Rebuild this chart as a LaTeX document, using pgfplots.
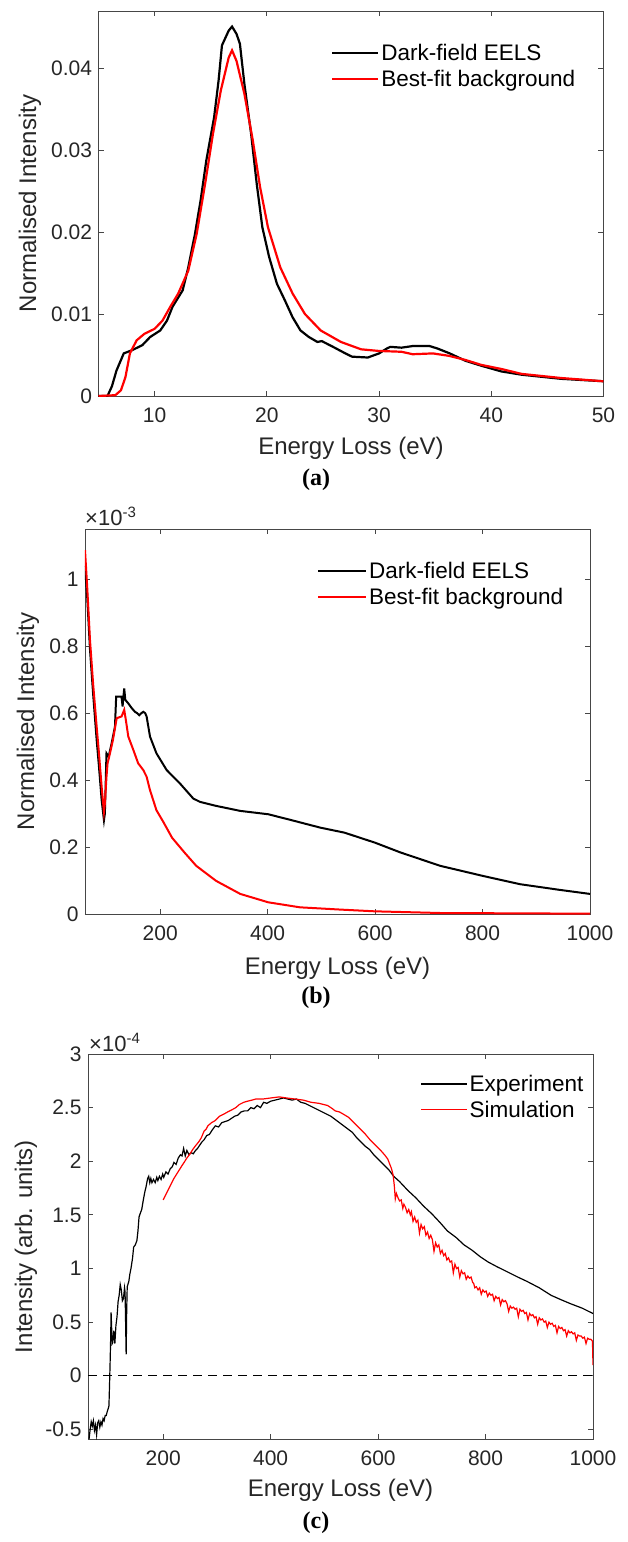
\documentclass[border=0pt]{standalone}
\usepackage{pgfplots}
\pgfplotsset{compat=1.18}
\usepackage{fontspec}
\setmainfont{Liberation Sans}
\newfontfamily\serifbf{Liberation Serif}
\definecolor{axgray}{RGB}{70,70,70}
\definecolor{txtgray}{RGB}{38,38,38}
\definecolor{mred}{RGB}{255,0,0}
\pgfplotsset{
 mystyle/.style={
  scale only axis, width=505pt, height=385pt,
  axis line style={axgray, line width=0.8pt},
  tick style={axgray, line width=0.8pt},
  tick align=inside, major tick length=5pt,
  tick label style={font=\fontsize{21}{24}\selectfont, text=txtgray},
  /pgf/number format/assume math mode=true,
  /pgf/number format/set thousands separator={},
  xticklabel style={yshift=-8pt},
  yticklabel style={xshift=-3pt},
  label style={font=\fontsize{24}{28}\selectfont, text=txtgray},
  xlabel style={anchor=center},
  ylabel style={anchor=center},
  scaled ticks=false,
  legend style={draw=none, fill=none, font=\fontsize{22.5}{26}\selectfont, text=black, anchor=north west, cells={anchor=west}, row sep=4pt},
 }
}
\begin{document}
\begin{tikzpicture}
\useasboundingbox (0,0) rectangle (627pt,-1542pt);
% ---------------- (a)
\begin{axis}[mystyle, at={(98.5pt,-396pt)}, anchor=south west,
  xmin=5, xmax=50, ymin=0, ymax=0.047,
  xtick={10,20,30,40,50},
  ytick={0,0.01,0.02,0.03,0.04}, yticklabels={0,0.01,0.02,0.03,0.04},
  xlabel={Energy Loss (eV)}, ylabel={Normalised Intensity},
  xlabel style={at={(axis description cs:0.5,-0.135)}},
  ylabel style={at={(axis description cs:-0.1356,0.5)}},
  legend style={at={(axis description cs:0.4545,0.925)}},
  legend image code/.code={\draw[#1] (0pt,0pt) -- (46pt,0pt);}]
\addplot[black, line width=2.2pt] coordinates {(5,0) (5.8,0) (6.2,0.0012) (6.6,0.0031) (7.25,0.0052) (8.0,0.0056) (8.9,0.0062) (9.6,0.0072) (10.5,0.008) (11.1,0.0092) (11.6,0.0109) (12.5,0.0129) (13.0,0.0157) (13.6,0.0198) (14.1,0.0239) (14.6,0.0287) (15.3,0.034) (15.7,0.0385) (16.0,0.0428) (16.6,0.0446) (16.9,0.0451) (17.3,0.0442) (17.6,0.043) (18.0,0.0381) (18.6,0.032) (19.1,0.0259) (19.6,0.0206) (20.2,0.017) (20.9,0.0137) (21.6,0.0117) (22.3,0.0096) (23.0,0.008) (23.75,0.0072) (24.5,0.0066) (24.9,0.0067) (25.9,0.006) (27,0.0052) (27.6,0.0048) (29,0.0047) (30,0.0052) (30.7,0.0058) (31,0.006) (32,0.0059) (33,0.0061) (34.5,0.0061) (35.2,0.0058) (36.3,0.0052) (37.7,0.0043) (39.1,0.0037) (40.9,0.003) (42.7,0.0026) (46.2,0.0021) (50,0.0018)};
\addlegendentry{Dark-field EELS}
\addplot[mred, line width=2.2pt] coordinates {(5,0) (6.5,0.0001) (7.0,0.0007) (7.4,0.0023) (7.8,0.0052) (8.4,0.0068) (9.1,0.0076) (10,0.0082) (10.7,0.0092) (11.4,0.0109) (12.1,0.0125) (13,0.0153) (13.75,0.0198) (14.5,0.0259) (15.2,0.032) (15.9,0.0373) (16.6,0.0413) (16.9,0.0422) (17.3,0.0409) (18,0.0369) (18.75,0.0312) (19.4,0.0255) (20.1,0.0206) (21.2,0.0157) (22.3,0.0125) (23.4,0.01) (24.8,0.008) (26.6,0.0066) (28.4,0.0057) (30,0.0055) (32,0.0054) (33,0.0051) (34.8,0.0052) (36.25,0.0049) (37.7,0.0044) (39.1,0.0038) (40.9,0.0033) (42.7,0.0027) (46.2,0.0022) (50,0.0018)};
\addlegendentry{Best-fit background}
\end{axis}
% ---------------- (b)
\begin{axis}[mystyle, at={(85pt,-914pt)}, anchor=south west,
  xmin=60, xmax=1000, ymin=0, ymax=1.15,
  xtick={200,400,600,800,1000},
  ytick={0,0.2,0.4,0.6,0.8,1}, yticklabels={0,0.2,0.4,0.6,0.8,1},
  xlabel={Energy Loss (eV)}, ylabel={Normalised Intensity},
  xlabel style={at={(axis description cs:0.5,-0.140)}},
  ylabel style={at={(axis description cs:-0.1129,0.5)}},
  legend style={at={(axis description cs:0.4535,0.925)}},
  legend image code/.code={\draw[#1] (0pt,0pt) -- (48pt,0pt);}]
\addplot[black, line width=2pt] coordinates {(60,1.04) (64,0.95) (69.3,0.79) (75,0.66) (81.7,0.52) (86,0.44) (91,0.34) (95.3,0.28) (97,0.3) (100,0.48) (104,0.47) (109.6,0.51) (115.8,0.56) (118,0.649) (124,0.649) (128,0.649) (130,0.62) (131,0.64) (133,0.674) (135,0.64) (140.6,0.629) (147,0.615) (153,0.604) (157,0.6) (161,0.594) (165,0.6) (168.5,0.604) (172,0.6) (174.7,0.59) (181,0.53) (193,0.48) (212,0.43) (236.7,0.39) (261.5,0.345) (274,0.335) (304,0.323) (349,0.308) (401,0.298) (438,0.283) (498,0.258) (543,0.243) (600,0.213) (647,0.184) (721,0.144) (800,0.114) (870,0.089) (944,0.072) (1000,0.06)};
\addlegendentry{Dark-field EELS}
\addplot[mred, line width=2pt] coordinates {(60,1.087) (64,0.98) (69.3,0.818) (75,0.69) (81.7,0.56) (86,0.48) (91,0.38) (95.3,0.305) (97,0.33) (100,0.41) (102,0.45) (106.5,0.48) (112,0.52) (119,0.585) (128,0.59) (133,0.61) (136,0.58) (140.6,0.53) (150,0.49) (159,0.45) (168.5,0.43) (174.7,0.41) (181,0.37) (193,0.31) (205.8,0.275) (222,0.228) (245,0.184) (267,0.144) (304,0.099) (349,0.06) (401,0.035) (460,0.02) (538,0.013) (600,0.008) (721,0.003) (1000,0.001)};
\addlegendentry{Best-fit background}
\end{axis}
\node[anchor=west, text=txtgray, font=\fontsize{22}{24}\selectfont, inner sep=0pt] at (85pt,-516pt) {×10\raisebox{8pt}{\fontsize{15}{15}\selectfont -3}};
% ---------------- (c)
\begin{axis}[mystyle, at={(88pt,-1439pt)}, anchor=south west,
  xmin=60, xmax=1000, ymin=-0.59, ymax=3,
  xtick={200,400,600,800,1000},
  ytick={-0.5,0,0.5,1,1.5,2,2.5,3}, yticklabels={-0.5,0,0.5,1,1.5,2,2.5,3},
  xlabel={Energy Loss (eV)}, ylabel={Intensity (arb. units)},
  xlabel style={at={(axis description cs:0.5,-0.1325)}},
  ylabel style={at={(axis description cs:-0.1228,0.5)}},
  legend style={at={(axis description cs:0.652,0.956)}},
  legend image code/.code={\draw[#1, line width=1.2pt] (0pt,0pt) -- (46pt,0pt);}]
\addplot[black, line width=1.2pt] coordinates {(62,-0.59) (64,-0.5) (66,-0.43) (68,-0.47) (70,-0.42) (72,-0.51) (74,-0.46) (76,-0.55) (78,-0.44) (80,-0.42) (82,-0.48) (84,-0.43) (86,-0.46) (88,-0.40) (90,-0.42) (92,-0.37) (94,-0.37) (96,-0.33) (98,-0.30) (99,-0.28) (100,-0.1) (101,0.09) (102,0.3) (103,0.59) (104,0.45) (105,0.3) (106,0.31) (108,0.42) (110,0.3) (112,0.47) (114,0.55) (116,0.69) (118,0.75) (120,0.85) (122,0.80) (124,0.70) (126,0.72) (128,0.82) (129,0.78) (130,0.5) (131,0.2) (132,0.6) (133,0.83) (136,0.88) (138,0.95) (140,1.0) (143,1.1) (145,1.2) (148,1.22) (151,1.26) (153,1.35) (155,1.48) (157,1.51) (160,1.55) (163,1.64) (166,1.72) (168,1.76) (171,1.84) (173,1.86) (175,1.8) (177,1.84) (179,1.8) (182,1.83) (185,1.8) (188,1.85) (190,1.82) (193,1.86) (196,1.83) (199,1.88) (201,1.85) (205,1.9) (209,1.88) (213,1.93) (217,1.95) (220,1.99) (224,1.97) (228,2.03) (232,2.06) (235,2.05) (238,2.12) (241,2.05) (244,2.1) (248,2.06) (252,2.08) (256,2.07) (260,2.1) (264,2.12) (268,2.15) (272,2.18) (276,2.2) (281,2.24) (286,2.25) (291,2.29) (297,2.33) (303,2.32) (309,2.36) (315,2.37) (321,2.38) (327,2.4) (333,2.42) (339,2.43) (345,2.46) (351,2.47) (357,2.47) (363,2.5) (369,2.49) (375,2.52) (381,2.5) (387,2.55) (393,2.54) (400,2.56) (408,2.57) (416,2.58) (424,2.59) (432,2.58) (440,2.57) (448,2.58) (456,2.55) (464,2.54) (472,2.52) (480,2.5) (488,2.48) (496,2.46) (504,2.44) (512,2.42) (520,2.39) (528,2.36) (536,2.33) (544,2.3) (552,2.27) (560,2.22) (568,2.18) (576,2.14) (584,2.11) (592,2.06) (600,2.02) (610,1.97) (620,1.92) (629,1.86) (640,1.81) (655,1.73) (670,1.66) (685,1.58) (700,1.51) (715,1.43) (729,1.35) (745,1.29) (760,1.22) (775,1.17) (790,1.11) (805,1.06) (820,1.02) (840,0.97) (860,0.92) (877,0.88) (900,0.82) (922,0.75) (940,0.71) (959,0.67) (980,0.63) (1000,0.58)};
\addlegendentry{Experiment}
\addplot[mred, line width=1.2pt] coordinates {(200,1.64) (204,1.68) (208,1.72) (212,1.76) (216,1.8) (220,1.84) (225,1.88) (230,1.92) (235,1.96) (239,1.99) (244,2.03) (250,2.07) (255,2.11) (261,2.15) (266,2.18) (271,2.22) (276,2.28) (280,2.3) (283,2.33) (290,2.36) (297,2.38) (305,2.42) (313,2.44) (320,2.46) (328,2.48) (335,2.5) (342,2.53) (350,2.55) (357,2.56) (365,2.57) (372,2.58) (385,2.58) (400,2.59) (416,2.6) (430,2.59) (446,2.58) (461,2.57) (475,2.55) (490,2.54) (506,2.52) (515,2.49) (520,2.47) (528,2.46) (535,2.44) (545,2.41) (555,2.36) (565,2.31) (575,2.26) (585,2.2) (595,2.15) (605,2.1) (612,2.06) (618,2.02) (625,1.93) (628,1.87) (630,1.78) (632,1.65) (634,1.70) (637,1.66) (640,1.63) (643,1.64) (646,1.56) (648,1.60) (651,1.57) (654,1.52) (657,1.55) (660,1.50) (662,1.53) (665,1.44) (668,1.48) (671,1.43) (674,1.45) (677,1.33) (680,1.41) (683,1.37) (686,1.39) (689,1.31) (692,1.34) (695,1.28) (698,1.31) (701,1.27) (704,1.16) (707,1.24) (710,1.2) (713,1.22) (716,1.14) (719,1.17) (722,1.12) (725,1.14) (728,1.08) (731,1.1) (734,1.06) (737,1.07) (740,0.96) (743,1.04) (746,1.0) (749,1.01) (752,0.92) (755,0.98) (758,0.95) (761,0.96) (764,0.9) (767,0.93) (770,0.91) (773,0.92) (776,0.87) (778,0.86) (780,0.82) (783,0.83) (786,0.80) (789,0.82) (792,0.76) (795,0.80) (798,0.78) (801,0.79) (804,0.74) (807,0.77) (810,0.75) (813,0.76) (816,0.70) (819,0.74) (822,0.72) (825,0.73) (828,0.66) (831,0.71) (834,0.69) (837,0.70) (840,0.67) (843,0.60) (846,0.65) (849,0.63) (852,0.64) (855,0.62) (858,0.63) (861,0.55) (864,0.62) (867,0.60) (870,0.61) (873,0.58) (876,0.59) (879,0.52) (882,0.58) (885,0.56) (888,0.57) (891,0.54) (894,0.55) (897,0.48) (900,0.54) (903,0.52) (906,0.53) (909,0.50) (912,0.51) (915,0.45) (918,0.50) (921,0.48) (924,0.49) (927,0.46) (930,0.47) (933,0.40) (936,0.46) (939,0.44) (942,0.45) (945,0.42) (948,0.43) (951,0.37) (954,0.42) (957,0.40) (960,0.41) (963,0.39) (966,0.40) (969,0.33) (972,0.38) (975,0.37) (978,0.37) (981,0.35) (984,0.36) (987,0.30) (990,0.35) (993,0.34) (996,0.34) (998,0.33) (999,0.32) (1000,0.1)};
\addlegendentry{Simulation}
\addplot[black, line width=1.2pt, dash pattern=on 9pt off 6pt, forget plot] coordinates {(60,0) (1000,0)};
\end{axis}
\node[anchor=west, text=txtgray, font=\fontsize{22}{24}\selectfont, inner sep=0pt] at (89pt,-1042pt) {×10\raisebox{8pt}{\fontsize{15}{15}\selectfont -4}};
% panel letters
\node[font=\serifbf\bfseries\fontsize{24}{28}\selectfont] at (316pt,-480pt) {(a)};
\node[font=\serifbf\bfseries\fontsize{24}{28}\selectfont] at (316pt,-998pt) {(b)};
\node[font=\serifbf\bfseries\fontsize{24}{28}\selectfont] at (316pt,-1523pt) {(c)};
\end{tikzpicture}
\end{document}
